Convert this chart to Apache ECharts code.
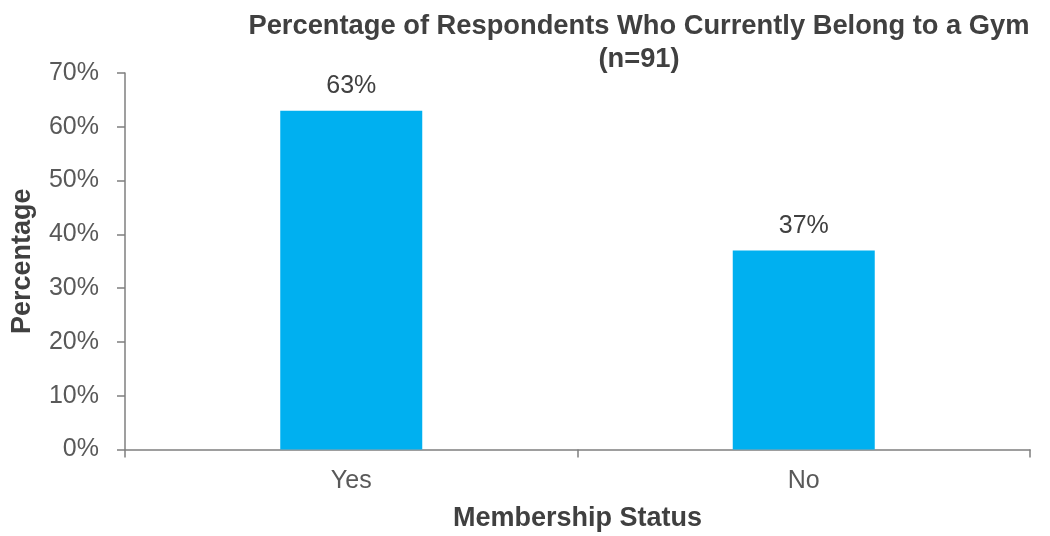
<!DOCTYPE html>
<html>
<head>
<meta charset="utf-8">
<script src="https://cdn.jsdelivr.net/npm/echarts@6/dist/echarts.min.js"></script>
<style>
  html, body { margin: 0; padding: 0; background: #ffffff; }
  #chart { width: 1050px; height: 536px; }
</style>
</head>
<body>
<div id="chart"></div>
<script>
// Gym membership survey results
const categories = ['Yes', 'No'];
const percentages = [63, 37];
const yTicks = [0, 10, 20, 30, 40, 50, 60, 70];

const chart = echarts.init(document.getElementById('chart'), null, { renderer: 'canvas' });

const font = '"Liberation Sans", Arial, sans-serif';

chart.setOption({
  animation: false,
  backgroundColor: '#ffffff',
  title: {
    text: 'Percentage of Respondents Who Currently Belong to a Gym\n(n=91)',
    left: 634,
    top: 5,
    textAlign: 'center',
    textStyle: {
      fontFamily: font,
      fontWeight: 'bold',
      fontSize: 27.3,
      lineHeight: 33,
      color: '#404040'
    }
  },
  grid: {
    left: 125, right: 20, top: 73, bottom: 86.5,
    containLabel: false,
    outerBoundsMode: 'none'
  },
  xAxis: {
    type: 'category',
    data: categories,
    name: 'Membership Status',
    nameLocation: 'middle',
    nameGap: 56,
    nameTextStyle: { fontFamily: font, fontWeight: 'bold', fontSize: 27, color: '#404040' },
    axisLine: { lineStyle: { color: '#7f7f7f', width: 1.5 } },
    axisTick: { show: true, alignWithLabel: false, length: 8, lineStyle: { color: '#7f7f7f', width: 1.5 } },
    axisLabel: { fontFamily: font, fontSize: 25, color: '#595959', margin: 19 }
  },
  yAxis: {
    type: 'value',
    min: yTicks[0],
    max: yTicks[yTicks.length - 1],
    interval: 10,
    name: 'Percentage',
    nameLocation: 'middle',
    nameGap: 89,
    nameTextStyle: { fontFamily: font, fontWeight: 'bold', fontSize: 27, color: '#404040' },
    axisLine: { show: true, lineStyle: { color: '#7f7f7f', width: 1.5 } },
    axisTick: { show: true, inside: false, length: 8, lineStyle: { color: '#7f7f7f', width: 1.5 } },
    splitLine: { show: false },
    axisLabel: {
      fontFamily: font, fontSize: 25, color: '#595959', margin: 26,
      formatter: v => v + '%'
    }
  },
  series: [{
    type: 'bar',
    data: percentages,
    barWidth: 142,
    itemStyle: { color: '#00b0f0' },
    label: {
      show: true,
      position: 'top',
      distance: 12,
      fontFamily: font,
      fontSize: 25,
      color: '#404040',
      formatter: p => p.value + '%'
    }
  }]
});
</script>
</body>
</html>
